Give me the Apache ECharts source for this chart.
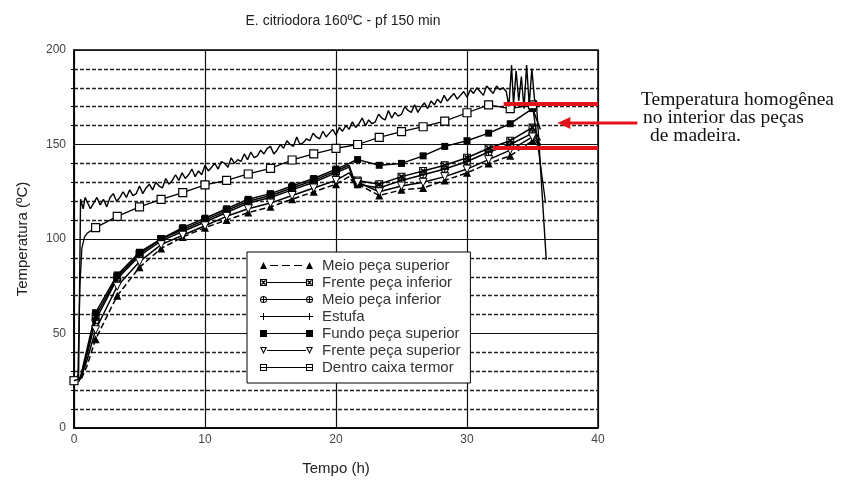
<!DOCTYPE html>
<html><head><meta charset="utf-8">
<script src="https://cdn.jsdelivr.net/npm/echarts@6/dist/echarts.min.js"></script>
<style>html,body{margin:0;padding:0;background:#fff}#c{width:843px;height:484px}</style>
</head><body><div id="c"></div>
<script>
const titleText = 'E. citriodora 160ºC - pf 150 min';
const xTicks = [0, 10, 20, 30, 40];
const yTicks = [0, 50, 100, 150, 200];
const seriesNames = ['Meio peça superior','Frente peça inferior','Meio peça inferior','Estufa','Fundo peça superior','Frente peça superior','Dentro caixa termor'];

// hours where markers are drawn
const markerTimes = [0,1.65,3.3,5,6.65,8.3,10,11.65,13.3,15,16.65,18.3,20,21.65,23.3,25,26.65,28.3,30,31.65,33.3,35];

// wood probes
const woodTime  = [0,0.5,1.0,1.65,3.3,5,6.65,8.3,10,11.65,13.3,15,16.65,18.3,20,21.0,21.3,21.65,23.3,25,26.65,28.3,30,31.65,33.3,35,35.6];
const meioSup   = [25,25,33,47,70,85,95,101,106,110,114,117,121,125,129,133,130,129,123,126,127,131,135,140,144,152,148];
const frenteInf = [25,26,40,59,80,92,100,105,110,115,120,123,127,131,136,139,133,131,129,133,136,139,143,148,152,159,152];
const meioInf   = [25,26,39,57,79,91,99,104,109,114,119,122,126,130,135,138,131,129,127,131,134,137,141,146,150,156,150];
const fundoSup  = [25,27,42,61,81,93,100,106,111,116,121,124,128,132,137,140,141,142,139,140,144,149,152,156,161,169,158];
const frenteSup = [25,26,36,52,75,88,97,102,107,112,116,119,123,127,131,135,132,130,125,128,130,133,137,142,147,154,149];

// thermal box interior
const caixaTime = [0,0.3,0.45,0.6,0.8,1.0,1.65,3.3,5,6.65,8.3,10,11.65,13.3,15,16.65,18.3,20,21.65,23.3,25,26.65,28.3,30,31.65,33.3,35,36.0];
const caixaVal  = [25,28,75,95,101,103,106,112,117,121,124.5,128.6,131,134.4,137.4,141.8,145,148,150,153.8,156.8,159.4,162.4,166.8,171,169,171,119];

// oven (noisy record)
const estufaHeadTime = [0,0.35,0.5,0.7,0.85];
const estufaHeadVal  = [25,26,121,116,122];
const estufaNoiseStart = 1.0, estufaNoiseStep = 0.25;
const estufaNoiseVal = [
 121,116,119,122, 118,121,117,122, 124,120,122,125, 122,126,123,124,
 128,124,127,129, 126,130,128,127, 132,129,131,134, 131,135,132,134,
 137,133,136,134, 139,136,138,140, 137,141,140,138, 143,140,142,141,
 145,142,146,143, 144,147,145,148, 149,145,147,150, 148,152,150,149,
 154,150,151,153, 152,156,154,153, 157,154,156,158, 155,159,157,160,
 158,162,159,161, 164,160,163,161, 162,166,164,163, 168,164,167,165,
 166,170,168,167, 171,167,170,172, 169,173,171,174, 172,176,173,175,
 177,174,176,178, 175,179,177,180, 178,176,181,179, 177,181,179,180];
const estufaTailTime = [33.0,33.2,33.4,33.55,33.75,33.95,34.15,34.35,34.55,34.75,34.95,35.15,35.3,36.05];
const estufaTailVal  = [178,170,192,171,189,173,186,169,192,171,190,174,172,89];

// red reference lines
const redLineY     = [171.5, 148.5];
const redLineStart = [32.8, 32.0];
const arrowY = 161.4, arrowTip = 36.9, arrowTail = 43.0;

const annotation = ['Temperatura homogênea', 'no interior das peças', 'de madeira.'];

const markerSet = new Set(markerTimes.map(t => t.toFixed(2)));
function mk(times, vals){
  return times.map((t,i) => markerSet.has(t.toFixed(2)) ? {value:[t, vals[i]]} : {value:[t, vals[i]], symbol:'none'});
}
const estufaTime = estufaHeadTime.concat(estufaNoiseVal.map((v,i)=> estufaNoiseStart + i*estufaNoiseStep), estufaTailTime);
const estufaVal = estufaHeadVal.concat(estufaNoiseVal, estufaTailVal);

// symbols (7x7 boxes)
const symXBox = 'path://M0,0H7V7H0Z M1,1V6H6V1Z M1,2L2,1L6,5L5,6Z M5,1L6,2L2,6L1,5Z';
const symCirc = 'path://M0,3.5A3.5,3.5,0,1,1,7,3.5A3.5,3.5,0,1,1,0,3.5Z M1,3.5A2.5,2.5,0,1,0,6,3.5A2.5,2.5,0,1,0,1,3.5Z M3,0H4V7H3Z M0,3H7V4H0Z';

// legend icons (53x7 boxes, markers at both ends)
const iconMeioSup = 'path://M0,7L3.5,0L7,7Z M10,3H18V4H10Z M22,3H30V4H22Z M34,3H42V4H34Z M46,7L49.5,0L53,7Z';
const iconFrenteInf = 'path://M0,0H7V7H0Z M1,1V6H6V1Z M1,2L2,1L6,5L5,6Z M5,1L6,2L2,6L1,5Z M7,3H46V4H7Z M46,0H53V7H46Z M47,1V6H52V1Z M47,2L48,1L52,5L51,6Z M51,1L52,2L48,6L47,5Z';
const iconMeioInf = 'path://M0,3.5A3.5,3.5,0,1,1,7,3.5A3.5,3.5,0,1,1,0,3.5Z M1,3.5A2.5,2.5,0,1,0,6,3.5A2.5,2.5,0,1,0,1,3.5Z M3,0H4V7H3Z M0,3H53V4H0Z M46,3.5A3.5,3.5,0,1,1,53,3.5A3.5,3.5,0,1,1,46,3.5Z M47,3.5A2.5,2.5,0,1,0,52,3.5A2.5,2.5,0,1,0,47,3.5Z M49,0H50V7H49Z';
const iconEstufa = 'path://M3,0H4V7H3Z M0,3H53V4H0Z M49,0H50V7H49Z';
const iconFundo = 'path://M0,0H7V7H0Z M7,3H46V4H7Z M46,0H53V7H46Z';
const iconFrenteSup = 'path://M0,0H7L3.5,7Z M1.7,0.9L3.5,4.8L5.3,0.9Z M7,3H46V4H7Z M46,0H53L49.5,7Z M47.7,0.9L49.5,4.8L51.3,0.9Z';
const iconCaixa = 'path://M0,0H7V7H0Z M1,1V6H6V1Z M0,3H53V4H0Z M46,0H53V7H46Z M47,1V6H52V1Z';
const icons = [iconMeioSup, iconFrenteInf, iconMeioInf, iconEstufa, iconFundo, iconFrenteSup, iconCaixa];

const FONT = '"Liberation Sans", Arial, sans-serif';
const SERIF = '"Liberation Serif", "Times New Roman", serif';
const line = {color:'#000', width:1.5};

const chart = echarts.init(document.getElementById('c'), null, {renderer:'canvas'});
const option = {
  animation:false,
  backgroundColor:'#fff',
  textStyle:{fontFamily:FONT},
  title:{text:titleText, left:338, top:9, textAlign:'center', textStyle:{fontSize:14, fontWeight:'normal', color:'#222', fontFamily:FONT}},
  grid:{left:74, right:245, top:50, bottom:56, show:true, borderColor:'#000', borderWidth:1.5, backgroundColor:'transparent'},
  legend:{
    orient:'vertical', left:247, top:252, padding:[6,10,8,13],
    backgroundColor:'#fff', borderColor:'#000', borderWidth:1,
    itemWidth:53, itemHeight:7, itemGap:2,
    textStyle:{fontSize:15, color:'#333', fontFamily:FONT, lineHeight:15, padding:[0,0,0,4]},
    data: seriesNames.map((n,i)=>({name:n, icon:icons[i], itemStyle:{color:'#000', borderWidth:0}}))
  },
  xAxis:{type:'value', min:xTicks[0], max:xTicks[xTicks.length-1], interval:10,
    name:'Tempo (h)', nameLocation:'middle', nameGap:33,
    nameTextStyle:{fontSize:15, color:'#222', fontFamily:FONT},
    axisLine:{lineStyle:{color:'#000', width:1.5}}, axisTick:{show:false},
    axisLabel:{fontSize:12, color:'#444', margin:6, fontFamily:FONT},
    splitLine:{show:true, lineStyle:{color:'#111', width:1.2}}},
  yAxis:{type:'value', min:yTicks[0], max:yTicks[yTicks.length-1], interval:50,
    name:'Temperatura (ºC)', nameLocation:'middle', nameGap:44,
    nameTextStyle:{fontSize:15, color:'#222', fontFamily:FONT},
    axisLine:{show:true, lineStyle:{color:'#000', width:1.5}},
    axisTick:{show:false},
    minorTick:{show:true, splitNumber:5, length:3, lineStyle:{color:'#000'}},
    axisLabel:{fontSize:12, color:'#444', margin:8, fontFamily:FONT},
    splitLine:{show:true, lineStyle:{color:'#111', width:1.2}},
    minorSplitLine:{show:true, lineStyle:{color:'#222', width:1.3, type:[4,2]}}},
  series:[
    {name:seriesNames[0], type:'line', data:mk(woodTime, meioSup), symbol:'triangle', symbolSize:8,
      lineStyle:{color:'#000', width:1.5, type:[6,3]}, itemStyle:{color:'#000'}, z:3},
    {name:seriesNames[1], type:'line', data:mk(woodTime, frenteInf), symbol:symXBox, symbolSize:8,
      lineStyle:line, itemStyle:{color:'#000'}, z:3},
    {name:seriesNames[2], type:'line', data:mk(woodTime, meioInf), symbol:symCirc, symbolSize:8,
      lineStyle:line, itemStyle:{color:'#000'}, z:3},
    {name:seriesNames[3], type:'line', data:estufaTime.map((t,i)=>[t, estufaVal[i]]), showSymbol:false, symbol:'none',
      lineStyle:{color:'#000', width:1.4}, itemStyle:{color:'#000'}, z:4},
    {name:seriesNames[4], type:'line', data:mk(woodTime, fundoSup), symbol:'rect', symbolSize:7,
      lineStyle:line, itemStyle:{color:'#000'}, z:3},
    {name:seriesNames[5], type:'line', data:mk(woodTime, frenteSup), symbol:'triangle', symbolRotate:180, symbolSize:8,
      lineStyle:line, itemStyle:{color:'#fff', borderColor:'#000', borderWidth:1}, z:3},
    {name:seriesNames[6], type:'line', data:mk(caixaTime, caixaVal), symbol:'rect', symbolSize:8,
      lineStyle:{color:'#000', width:1.3}, itemStyle:{color:'#fff', borderColor:'#000', borderWidth:1.2}, z:3},
    {name:'_ref', type:'line', data:[], z:10, silent:true,
      markLine:{silent:true, symbol:['none','none'], label:{show:false},
        lineStyle:{color:'#e3121b', width:4, type:'solid'},
        data: redLineY.map((y,i)=>[{coord:[redLineStart[i], y]},{coord:[40, y]}])}}
  ]
};
chart.setOption(option);

const tip = chart.convertToPixel({gridIndex:0}, [arrowTip, arrowY]);
const tail = chart.convertToPixel({gridIndex:0}, [arrowTail, arrowY]);
chart.setOption({graphic:[
  {type:'line', shape:{x1:tip[0]+10, y1:tip[1], x2:tail[0], y2:tail[1]}, style:{stroke:'#e3121b', lineWidth:3}, z:20},
  {type:'polygon', shape:{points:[[tip[0], tip[1]],[tip[0]+13, tip[1]-6],[tip[0]+13, tip[1]+6]]}, style:{fill:'#e3121b'}, z:20},
  {type:'text', left:641, top:90, style:{text:annotation[0], font:'19.5px '+SERIF, fill:'#111'}},
  {type:'text', left:643, top:108, style:{text:annotation[1], font:'19.5px '+SERIF, fill:'#111'}},
  {type:'text', left:650, top:126, style:{text:annotation[2], font:'19.5px '+SERIF, fill:'#111'}}
]});
</script></body></html>
